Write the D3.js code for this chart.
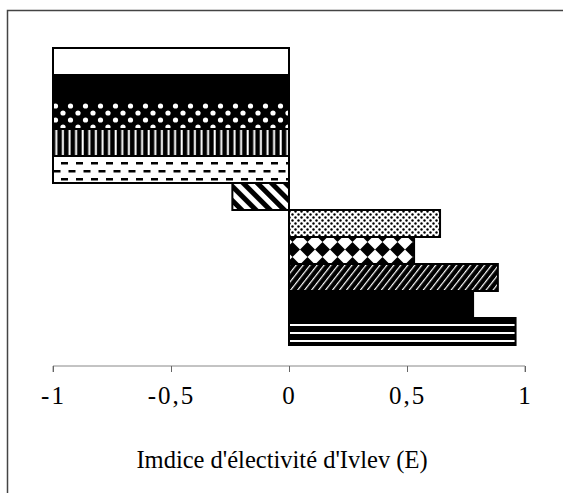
<!DOCTYPE html>
<html><head><meta charset="utf-8">
<script src="https://cdn.jsdelivr.net/npm/d3@7"></script>
<style>body{margin:0;background:#fff}svg{display:block}</style>
</head><body>
<script>
const categories = ["c1","c2","c3","c4","c5","c6","c7","c8","c9","c10","c11"];
const values = [-1, -1, -1, -1, -1, -0.24, 0.64, 0.53, 0.885, 0.78, 0.96];
const tickValues = [-1, -0.5, 0, 0.5, 1];
const tickLabels = ["-1", "-0,5", "0", "0,5", "1"];
const xTitle = "Imdice d'électivité d'Ivlev (E)";

const W = 563, H = 493;
const svg = d3.select("body").append("svg").attr("width", W).attr("height", H);
const defs = svg.append("defs");

function pat(id, w, h, draw, bg) {
  const p = defs.append("pattern").attr("id", id).attr("patternUnits", "userSpaceOnUse")
    .attr("width", w).attr("height", h);
  p.append("rect").attr("width", w).attr("height", h).attr("fill", bg);
  draw(p);
}
pat("p_white", 4, 4, () => {}, "#fff");
pat("p_black", 4, 4, () => {}, "#000");
pat("p_dots", 15, 14, p => {
  p.append("circle").attr("cx", 3).attr("cy", 1).attr("r", 2.6).attr("fill", "#fff");
  p.append("circle").attr("cx", 3).attr("cy", 15).attr("r", 2.6).attr("fill", "#fff");
  p.append("circle").attr("cx", 10.5).attr("cy", 8).attr("r", 2.6).attr("fill", "#fff");
}, "#000");
pat("p_vert", 6.6, 6, p => {
  p.append("rect").attr("x", 2.5).attr("y", 0).attr("width", 2).attr("height", 6).attr("fill", "#fff");
}, "#000");
pat("p_dash", 15, 16, p => {
  p.append("rect").attr("x", 1).attr("y", 2).attr("width", 7).attr("height", 2.5).attr("fill", "#000");
  p.append("rect").attr("x", 8.5).attr("y", 10).attr("width", 7).attr("height", 2.5).attr("fill", "#000");
  p.append("rect").attr("x", -6.5).attr("y", 10).attr("width", 7).attr("height", 2.5).attr("fill", "#000");
}, "#fff");
pat("p_diag", 10, 10, p => {
  p.attr("patternTransform", "rotate(-45)");
  p.append("rect").attr("x", 0).attr("y", 0).attr("width", 5).attr("height", 10).attr("fill", "#000");
}, "#fff");
pat("p_fine", 6, 6, p => {
  p.append("circle").attr("cx", 1.5).attr("cy", 1.5).attr("r", 1.2).attr("fill", "#000");
  p.append("circle").attr("cx", 4.5).attr("cy", 4.5).attr("r", 1.2).attr("fill", "#000");
}, "#fff");
pat("p_diam", 15, 15, p => {
  p.attr("patternTransform", "translate(0,2)");
  p.append("path").attr("d", "M7.5,0 L15,7.5 L7.5,15 L0,7.5Z").attr("fill", "#000");
}, "#fff");
pat("p_hatch", 5.5, 5.5, p => {
  p.attr("patternTransform", "rotate(38)");
  p.append("rect").attr("x", 0).attr("y", 0).attr("width", 1.2).attr("height", 5.5).attr("fill", "#fff");
}, "#000");
pat("p_horiz", 8, 8, p => {
  p.append("rect").attr("x", 0).attr("y", 4).attr("width", 8).attr("height", 2).attr("fill", "#fff");
}, "#000");
const fills = ["p_white","p_black","p_dots","p_vert","p_dash","p_diag","p_fine","p_diam","p_hatch","p_black","p_horiz"];

// frame
svg.append("path").attr("d", `M7.5,${H} V10.5 H${W}`).attr("fill", "none")
  .attr("stroke", "#444").attr("stroke-width", 1.5);

const x = d3.scaleLinear().domain([-1, 1]).range([53, 525]);
const y = d3.scaleBand().domain(categories).range([48, 345]).padding(0);

svg.append("g").selectAll("rect").data(values).join("rect")
  .attr("x", d => x(Math.min(0, d)))
  .attr("width", d => Math.abs(x(d) - x(0)))
  .attr("y", (d, i) => y(categories[i]))
  .attr("height", y.bandwidth())
  .attr("fill", (d, i) => `url(#${fills[i]})`)
  .attr("stroke", "#000").attr("stroke-width", 2);

const ax = svg.append("g").attr("transform", "translate(0,366)")
  .call(d3.axisBottom(x).tickValues(tickValues).tickFormat((d, i) => tickLabels[i]).tickSize(6).tickPadding(14).tickSizeOuter(0));
ax.select(".domain").attr("stroke", "#888").attr("d", "M53,6V0H525V6");
ax.selectAll(".tick line").attr("stroke", "#666");
ax.selectAll(".tick text").attr("font-family", "Liberation Serif, serif").attr("font-size", 25)
  .attr("letter-spacing", "2px").attr("fill", "#000");

svg.append("text").attr("x", 282).attr("y", 468).attr("text-anchor", "middle")
  .attr("font-family", "Liberation Serif, serif").attr("font-size", 24.5).text(xTitle);
</script>
</body></html>
